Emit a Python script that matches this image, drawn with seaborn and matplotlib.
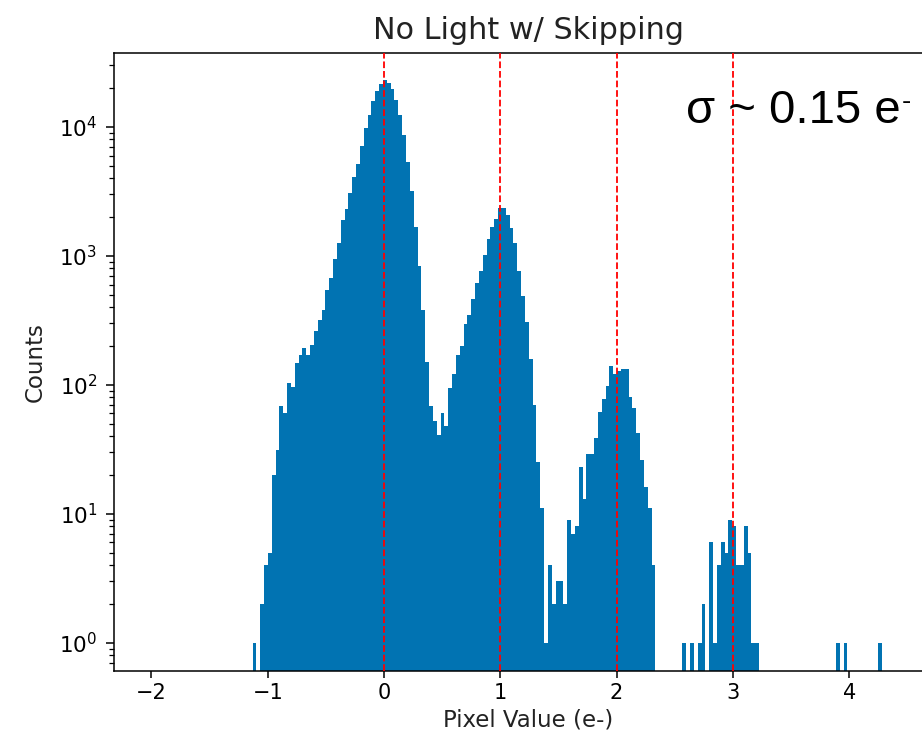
import matplotlib
matplotlib.use("Agg")
import matplotlib.pyplot as plt
import seaborn as sns
import numpy as np
import pandas as pd

# histogram bins (pixel value in e-)
bin_lo = -1.131
bin_w = 0.033
counts = [1, 0, 2, 4, 5, 20, 31, 68, 61, 103,
          96, 149, 171, 193, 171, 204, 260, 321, 382, 542,
          678, 946, 1250, 1900, 2311, 3100, 4100, 5130, 7060, 9820,
          12360, 15780, 19050, 21440, 23130, 21900, 19600, 16330, 12360, 8650,
          5350, 3210, 1680, 841, 382, 150, 68, 52, 41, 60,
          48, 95, 121, 171, 200, 295, 351, 465, 622, 767,
          1014, 1342, 1679, 1930, 2344, 2344, 2069, 1633, 1250, 767,
          491, 306, 160, 70, 25, 11, 1, 4, 2, 3,
          3, 2, 9, 7, 8, 23, 13, 29, 29, 39,
          62, 77, 98, 140, 122, 128, 132, 132, 81, 66,
          42, 26, 16, 11, 4, 0, 0, 0, 0, 0,
          0, 0, 1, 0, 1, 0, 1, 2, 0, 6,
          1, 4, 6, 5, 9, 8, 4, 4, 8, 5,
          1, 1, 0, 0, 0, 0, 0, 0, 0, 0,
          0, 0, 0, 0, 0, 0, 0, 0, 0, 0,
          0, 0, 1, 0, 1, 0, 0, 0, 0, 0,
          0, 0, 0, 1]
peak_lines = [0, 1, 2, 3]

n = len(counts)
edges = bin_lo + bin_w * np.arange(n + 1)
df = pd.DataFrame({"value": edges[:-1] + bin_w / 2, "count": counts})

fig = plt.figure(figsize=(9.22, 7.44), dpi=100)
ax = fig.add_axes([114 / 922, 1 - 671 / 744, 828 / 922, 618 / 744])

sns.histplot(data=df, x="value", weights="count", bins=list(edges),
             color="#0173B2", alpha=1, linewidth=0, ax=ax)
ax.set_yscale("log")

for p in peak_lines:
    ax.axvline(p, color="red", linestyle="--", linewidth=1.3, zorder=5)

ax.set_xlim(-2.322, 4.798)
ax.set_ylim(0.603, 37500)

ax.set_title("No Light w/ Skipping", fontsize=21.8, pad=10, color="#222222")
ax.set_xlabel("Pixel Value (e-)", fontsize=16.5, color="#222222")
ax.set_ylabel("Counts", fontsize=16.5, labelpad=9, color="#222222")
ax.tick_params(axis="x", which="major", labelsize=15, length=4.8, width=1.1)
ax.tick_params(axis="y", which="major", labelsize=15.5, length=6, width=1.1, pad=6)
ax.tick_params(axis="y", which="minor", length=3.5, width=0.9)
for s in ax.spines.values():
    s.set_linewidth(1.1)

sig_font = ["Liberation Sans", "DejaVu Sans"]
fig.text(686 / 922, 1 - 123 / 744, "σ ~ 0.15 e", fontsize=34,
         family=sig_font, va="baseline", ha="left")
fig.text(902 / 922, 1 - 109 / 744, "-", fontsize=20,
         family=sig_font, va="baseline", ha="left")

fig.savefig("out.png", dpi=100)
